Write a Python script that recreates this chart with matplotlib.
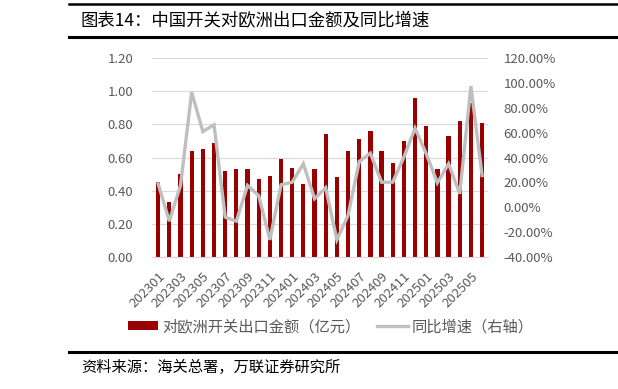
import matplotlib
matplotlib.use("Agg")
import matplotlib.pyplot as plt
from matplotlib.lines import Line2D
from matplotlib.patches import Patch
import numpy as np

plt.rcParams['font.family'] = ['Noto Sans CJK SC', 'DejaVu Sans']

months = ['202301', '202302', '202303', '202304', '202305', '202306', '202307', '202308',
          '202309', '202310', '202311', '202312', '202401', '202402', '202403', '202404',
          '202405', '202406', '202407', '202408', '202409', '202410', '202411', '202412',
          '202501', '202502', '202503', '202504', '202505', '202506']
export_value = [0.45, 0.33, 0.50, 0.64, 0.65, 0.69, 0.52, 0.53, 0.53, 0.47,
                0.49, 0.59, 0.54, 0.44, 0.53, 0.74, 0.48, 0.64, 0.71, 0.76,
                0.64, 0.57, 0.70, 0.96, 0.79, 0.53, 0.73, 0.82, 0.93, 0.81]
yoy_growth = [18.9, -11.1, 17.6, 92.5, 60.9, 66.3, -7.9, -11.1, 17.6, 9.5,
              -26.1, 18.1, 20.2, 35.0, 6.9, 15.7, -26.1, -6.5, 36.8, 43.5,
              20.2, 20.2, 40.3, 63.6, 43.0, 19.7, 35.0, 10.9, 97.4, 25.6]
left_ticks = [0.0, 0.2, 0.4, 0.6, 0.8, 1.0, 1.2]
right_ticks = [-40, -20, 0, 20, 40, 60, 80, 100, 120]

title = '图表14：中国开关对欧洲出口金额及同比增速'
source = '资料来源：海关总署，万联证券研究所'
bar_label = '对欧洲开关出口金额（亿元）'
line_label = '同比增速（右轴）'

BAR_C = '#990000'
LINE_C = '#BFBFBF'
TXT_C = '#595959'

fig = plt.figure(figsize=(6.18, 3.89), dpi=100)
ax = fig.add_axes([0.246, 0.339, 0.544, 0.512])
x = np.arange(len(months))
ax.bar(x, export_value, width=0.38, color=BAR_C, zorder=2)
ax.set_ylim(0, 1.2)
ax.set_xlim(-0.55, len(months) - 0.45)
ax.set_yticks(left_ticks)
ax.set_yticklabels([f'{v:.2f}' for v in left_ticks], color=TXT_C, fontsize=9.5)
ax.yaxis.grid(True, color='#D9D9D9', linewidth=0.8, zorder=0)
ax.set_axisbelow(True)
for s in ax.spines.values():
    s.set_visible(False)
ax.spines['bottom'].set_visible(True)
ax.spines['bottom'].set_color('#D9D9D9')
ax.tick_params(axis='y', length=0, pad=13.5)
ax.set_xticks(x[::2])
ax.set_xticklabels(months[::2], rotation=45, ha='right', rotation_mode='anchor',
                   color=TXT_C, fontsize=9.5)
ax.tick_params(axis='x', length=0, pad=9)

ax2 = ax.twinx()
ax2.plot(x, yoy_growth, color=LINE_C, linewidth=2.4, zorder=3, solid_joinstyle='miter')
ax2.set_ylim(-40, 120)
ax2.set_yticks(right_ticks)
ax2.set_yticklabels([f'{v:.2f}%' for v in right_ticks], color=TXT_C, fontsize=9.5)
ax2.tick_params(axis='y', length=0, pad=11)
for s in ax2.spines.values():
    s.set_visible(False)

handles = [Patch(facecolor=BAR_C, edgecolor='none'),
           Line2D([0], [0], color=LINE_C, linewidth=2.4)]
fig.legend(handles, [bar_label, line_label], loc='center left',
           bbox_to_anchor=(0.207, 0.16), ncol=2, frameon=False, fontsize=11,
           labelcolor=TXT_C, handlelength=2.0, handleheight=0.5, handletextpad=0.25,
           columnspacing=1.1, borderpad=0, borderaxespad=0)

# header / footer
fig.add_artist(Line2D([0.112, 1.0], [1 - 3.5/389, 1 - 3.5/389], color='black', linewidth=1.8))
fig.add_artist(Line2D([0.112, 1.0], [1 - 37/389, 1 - 37/389], color='black', linewidth=2.2))
fig.text(0.131, 1 - 21/389, title, fontsize=12.5, va='center', ha='left', color='black')
fig.add_artist(Line2D([0.112, 1.0], [1 - 352/389, 1 - 352/389], color='black', linewidth=2.2))
fig.text(0.131, 1 - 367/389, source, fontsize=11, va='center', ha='left', color='black')

fig.savefig('out.png', dpi=100)
